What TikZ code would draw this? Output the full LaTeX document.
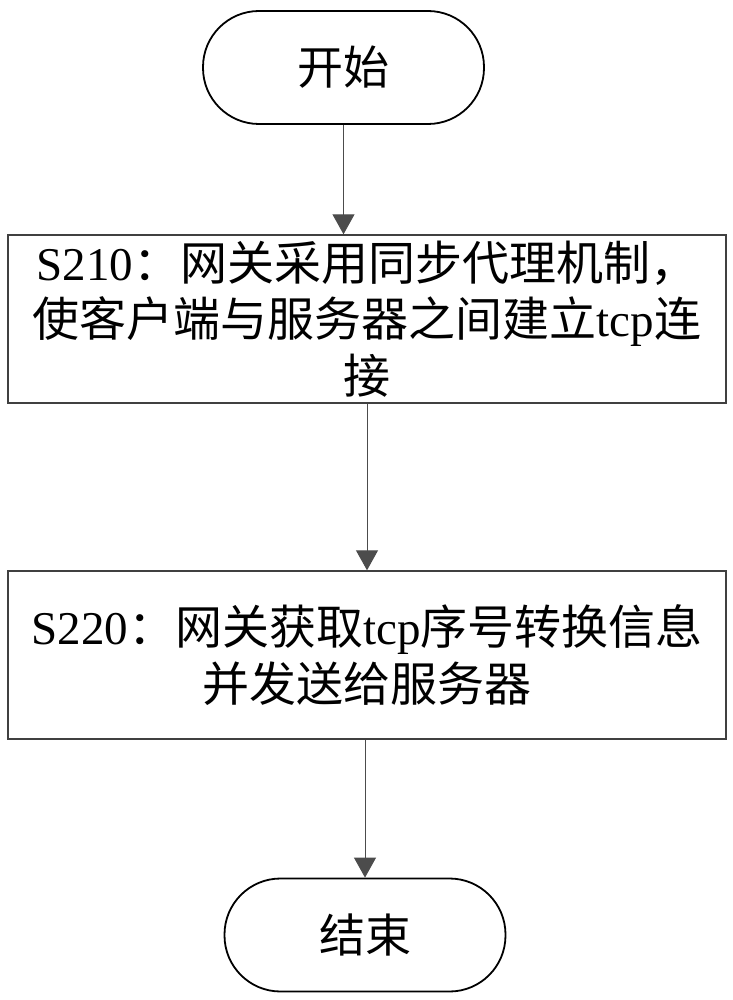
\documentclass[tikz,border=0pt]{standalone}
\usepackage{fontspec}
\setmainfont{Liberation Serif}
\newfontfamily\cjk{Noto Sans CJK SC}
\usetikzlibrary{arrows.meta}

\begin{document}
\begin{tikzpicture}[x=1pt,y=-1pt,
    terminal/.style={draw=black, line width=1.8pt, rounded corners=56pt,
      minimum width=281pt, minimum height=113pt, inner sep=0pt,
      font=\fontsize{46}{56.5}\selectfont},
    process/.style={draw=black!75, line width=1.4pt,
      minimum width=718pt, minimum height=168pt, inner sep=0pt,
      align=center, font=\fontsize{47}{56.5}\selectfont},
    flow/.style={draw=black!70, line width=1pt,
      -{Triangle[width=22pt,length=20pt]}}]
  \useasboundingbox (0,0) rectangle (732,1000);

  % start and end
  \node[terminal] (start) at (343.5,67.5) {\cjk 开始};
  \node[terminal] (stop) at (365,935) {\cjk 结束};

  % steps
  \node[process] (s210) at (367,319)
    {S210{\cjk ：网关采用同步代理机制，}\\
     {\cjk 使客户端与服务器之间建立}tcp{\cjk 连}\\
     {\cjk 接}};
  \node[process] (s220) at (367,655)
    {S220{\cjk ：网关获取}tcp{\cjk 序号转换信息}\\
     {\cjk 并发送给服务器}};

  % arrows
  \draw[flow] (start.south) -- (start.south |- s210.north);
  \draw[flow] (s210.south) -- (s220.north);
  \draw[flow] (s220.south -| stop.north) -- (stop.north);
\end{tikzpicture}
\end{document}
